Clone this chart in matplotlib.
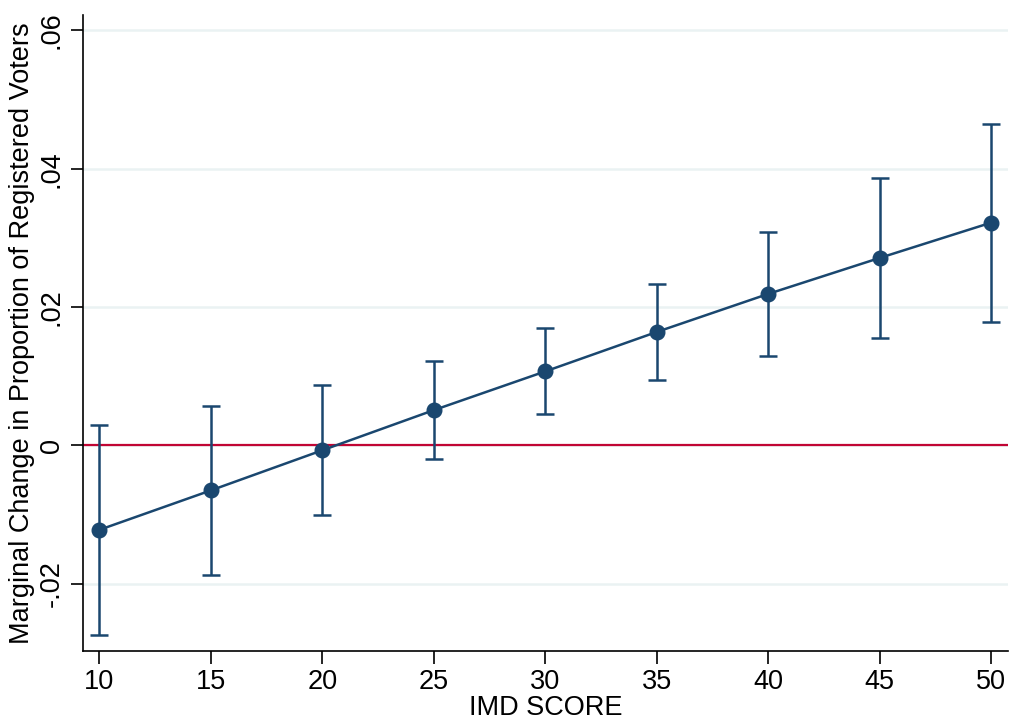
import matplotlib
matplotlib.use("Agg")
import matplotlib.pyplot as plt

plt.rcParams['font.family'] = ['Liberation Sans', 'DejaVu Sans']

imd_score = [10, 15, 20, 25, 30, 35, 40, 45, 50]
margin = [-0.0122, -0.0065, -0.0007, 0.0051, 0.0107, 0.0164, 0.0219, 0.0271, 0.0322]
ci_low = [-0.0274, -0.0187, -0.0101, -0.0020, 0.0046, 0.0094, 0.0129, 0.0155, 0.0178]
ci_high = [0.0029, 0.0057, 0.0087, 0.0122, 0.0170, 0.0233, 0.0309, 0.0387, 0.0465]
y_ticks = [-0.02, 0, 0.02, 0.04, 0.06]
y_tick_labels = ['-.02', '0', '.02', '.04', '.06']

navy = '#1a476f'

fig = plt.figure(figsize=(10.11, 7.22), dpi=100)
ax = fig.add_axes([0.082, 0.098, 0.915, 0.881])

for y in y_ticks:
    ax.axhline(y, color='#eaf2f3', lw=1.8, zorder=0)
ax.axhline(0, color='#c10534', lw=1.6, zorder=1)

err_lo = [m - l for m, l in zip(margin, ci_low)]
err_hi = [h - m for m, h in zip(margin, ci_high)]
ax.errorbar(imd_score, margin, yerr=[err_lo, err_hi], color=navy, lw=1.8,
            elinewidth=1.8, capsize=6.5, capthick=1.8, marker='o',
            markersize=10.5, zorder=3)

ax.set_xlim(9.26, 50.76)
ax.set_ylim(-0.02975, 0.0622)
ax.set_xticks(imd_score)
ax.set_yticks(y_ticks)
ax.set_yticklabels(y_tick_labels, rotation=90, va='center')

for s in ['top', 'right']:
    ax.spines[s].set_visible(False)
for s in ['left', 'bottom']:
    ax.spines[s].set_linewidth(1.2)
ax.tick_params(axis='both', length=9, width=1.2, labelsize=19.5, pad=4)

ax.set_xlabel('IMD SCORE', fontsize=19.5, labelpad=0)
ax.set_ylabel('Marginal Change in Proportion of Registered Voters', fontsize=19.5, labelpad=3)

fig.savefig('out.png', dpi=100, facecolor='white')
